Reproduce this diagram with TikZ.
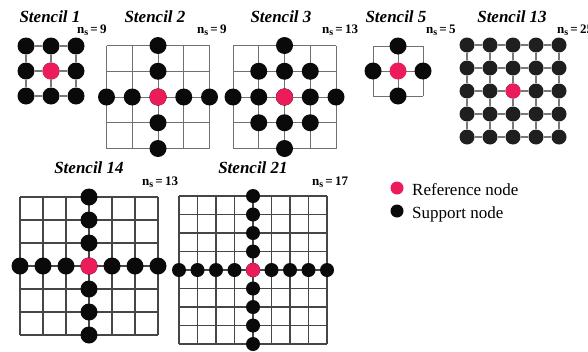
\documentclass[tikz,border=0pt]{standalone}
\usepackage{fontspec}
\setmainfont{Liberation Serif}
\definecolor{refred}{RGB}{236,27,90}
\definecolor{supblack}{RGB}{10,10,10}
\definecolor{lightgrid}{RGB}{112,112,112}
\definecolor{darkgrid}{RGB}{70,70,70}
\definecolor{linkgray}{RGB}{120,120,120}
% square grid: origin x, origin y, cell size, cells per side, style
\newcommand{\stgrid}[5]{%
  \foreach \k in {0,...,#4}{%
    \draw[#5] ({#1+#3*\k},#2) -- ({#1+#3*\k},{#2+#3*#4});
    \draw[#5] (#1,{#2+#3*\k}) -- ({#1+#3*#4},{#2+#3*\k});
  }}
\begin{document}
\begin{tikzpicture}[x=1pt,y=-1pt,
  title/.style={font=\fontsize{17}{20}\selectfont\bfseries\itshape, anchor=base},
  count/.style={font=\fontsize{13}{15}\selectfont\bfseries, anchor=base west, inner sep=0pt},
  legendtext/.style={font=\fontsize{17}{20}\selectfont, anchor=base west, inner sep=0pt},
  supnode/.style={circle, fill=supblack, inner sep=0pt, minimum size=#1},
  supnode/.default=17pt,
  refnode/.style={circle, fill=refred, inner sep=0pt, minimum size=#1},
  refnode/.default=17pt,
  upgrid/.style={draw=lightgrid, line width=1pt},
  lowgrid/.style={draw=darkgrid, line width=1.1pt},
  link/.style={draw=linkgray, line width=1.3pt}]
\useasboundingbox (0,0) rectangle (588,351);

% ---- Stencil 1: 3x3 block
\foreach \i in {0,1,2}{\foreach \j in {0,1,2}{
  \node[supnode] (a-\i-\j) at ({26+25*\i},{46+25*\j}) {};}}
\node[refnode] (a-1-1) at (51,71) {};
\foreach \i in {0,1,2}{
  \draw[link] (a-0-\i) -- (a-1-\i); \draw[link] (a-1-\i) -- (a-2-\i);
  \draw[link] (a-\i-0) -- (a-\i-1); \draw[link] (a-\i-1) -- (a-\i-2);}
\node[title] (t1) at (50,22) {Stencil 1};
\node[count] (n1) at (77,33) {n\raisebox{-0.4ex}{\fontsize{10}{10}\selectfont s}\,=\,9};

% ---- Stencil 2: plus shape, reach 2
\stgrid{106.5}{45.5}{25.75}{4}{upgrid}
\foreach \k in {0,...,4}{
  \node[supnode] (b-h-\k) at ({106.5+25.75*\k},97) {};
  \node[supnode] (b-v-\k) at (158,{45.5+25.75*\k}) {};}
\node[refnode] (b-c) at (158,97) {};
\node[title] (t2) at (155,22) {Stencil 2};
\node[count] (n2) at (197,33) {n\raisebox{-0.4ex}{\fontsize{10}{10}\selectfont s}\,=\,9};

% ---- Stencil 3: plus shape with diagonal ring
\stgrid{233}{45.5}{25.75}{4}{upgrid}
\foreach \k in {0,...,4}{
  \node[supnode] (c-h-\k) at ({233+25.75*\k},97) {};
  \node[supnode] (c-v-\k) at (284.5,{45.5+25.75*\k}) {};}
\foreach \i/\j in {0/0,2/0,0/2,2/2}{
  \node[supnode] (c-d-\i-\j) at ({258.75+25.75*\i},{71.25+25.75*\j}) {};}
\node[refnode] (c-c) at (284.5,97) {};
\node[title] (t3) at (281,22) {Stencil 3};
\node[count] (n3) at (322,33) {n\raisebox{-0.4ex}{\fontsize{10}{10}\selectfont s}\,=\,13};

% ---- Stencil 5: five-point star
\stgrid{373}{46}{25}{2}{upgrid}
\node[supnode] (d-n) at (398,46) {};
\node[supnode] (d-w) at (373,71) {};
\node[supnode] (d-e) at (423,71) {};
\node[supnode] (d-s) at (398,96) {};
\node[refnode] (d-c) at (398,71) {};
\node[title] (t5) at (396,22) {Stencil 5};
\node[count] (n5) at (426,33) {n\raisebox{-0.4ex}{\fontsize{10}{10}\selectfont s}\,=\,5};

% ---- Stencil 13: 5x5 block
\foreach \i in {0,...,4}{\foreach \j in {0,...,4}{
  \node[supnode=15pt, fill=black!88] (e-\i-\j) at ({467+23*\i},{45+23*\j}) {};}}
\node[refnode=15pt] (e-2-2) at (513,91) {};
\foreach \i in {0,...,4}{\foreach \k [evaluate=\k as \m using int(\k+1)] in {0,...,3}{
  \draw[link] (e-\k-\i) -- (e-\m-\i);
  \draw[link] (e-\i-\k) -- (e-\i-\m);}}
\node[title] (t13) at (512,22) {Stencil 13};
\node[count] (n13) at (557,33) {n\raisebox{-0.4ex}{\fontsize{10}{10}\selectfont s}\,=\,25};

% ---- Stencil 14: plus shape, reach 3
\stgrid{20}{197}{23}{6}{lowgrid}
\foreach \k in {0,...,6}{
  \node[supnode] (f-h-\k) at ({20+23*\k},266) {};
  \node[supnode] (f-v-\k) at (89,{197+23*\k}) {};}
\node[refnode] (f-c) at (89,266) {};
\node[title] (t14) at (89,173) {Stencil 14};
\node[count] (n14) at (142,185) {n\raisebox{-0.4ex}{\fontsize{10}{10}\selectfont s}\,=\,13};

% ---- Stencil 21: plus shape, reach 4
\stgrid{179}{196}{18.5}{8}{lowgrid}
\foreach \k in {0,...,8}{
  \node[supnode=14pt] (g-h-\k) at ({179+18.5*\k},270) {};
  \node[supnode=14pt] (g-v-\k) at (253,{196+18.5*\k}) {};}
\node[refnode=14pt] (g-c) at (253,270) {};
\node[title] (t21) at (253,173) {Stencil 21};
\node[count] (n21) at (312,185) {n\raisebox{-0.4ex}{\fontsize{10}{10}\selectfont s}\,=\,17};

% ---- legend
\node[refnode=13pt] (lr) at (397,188) {};
\node[supnode=13pt] (ls) at (397,211) {};
\node[legendtext] (lrt) at (412,195) {Reference node};
\node[legendtext] (lst) at (412,218) {Support node};
\end{tikzpicture}
\end{document}
